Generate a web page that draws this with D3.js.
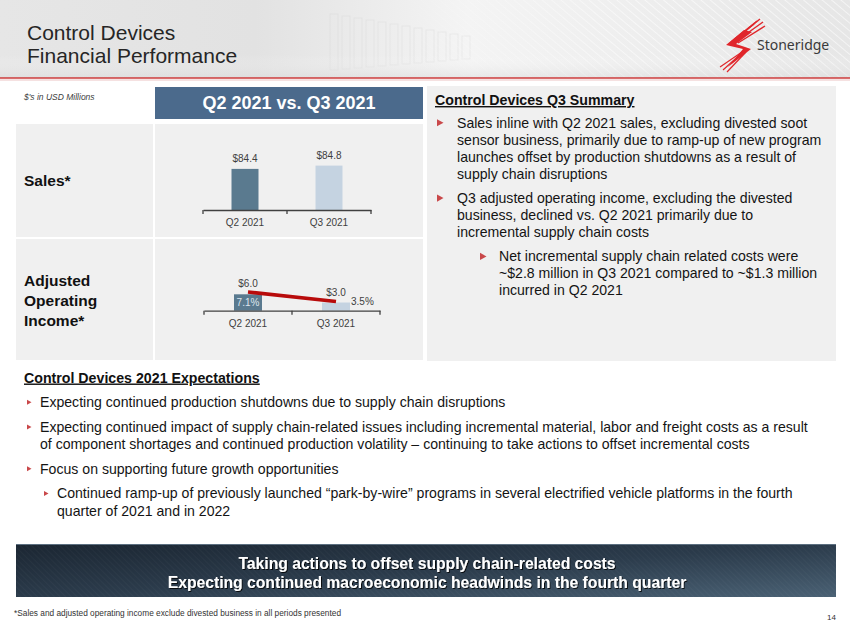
<!DOCTYPE html>
<html><head><meta charset="utf-8">
<script src="https://cdn.jsdelivr.net/npm/d3@7"></script>
<style>
html,body{margin:0;padding:0;background:#fff;}
svg text{font-family:"Liberation Sans",Arial,sans-serif;}
</style></head><body>
<svg id="c" width="850" height="638"></svg>
<script>
// ---------- data ----------
const quarters = ["Q2 2021", "Q3 2021"];
const salesValues = [84.4, 84.8];
const aoiValues = [6.0, 3.0];
const aoiMargins = [7.1, 3.5];
const titleLines = ["Control Devices", "Financial Performance"];
const compareTitle = "Q2 2021 vs. Q3 2021";
const unitNote = "$'s in USD Millions";
const rowLabelsSales = ["Sales*"];
const rowLabelsAoi = ["Adjusted", "Operating", "Income*"];
const summaryTitle = "Control Devices Q3 Summary";
const summaryItems = [
  {level: 0, lines: ["Sales inline with Q2 2021 sales, excluding divested soot",
                     "sensor business, primarily due to ramp-up of new program",
                     "launches offset by production shutdowns as a result of",
                     "supply chain disruptions"]},
  {level: 0, lines: ["Q3 adjusted operating income, excluding the divested",
                     "business, declined vs. Q2 2021 primarily due to",
                     "incremental supply chain costs"]},
  {level: 1, lines: ["Net incremental supply chain related costs were",
                     "~$2.8 million in Q3 2021 compared to ~$1.3 million",
                     "incurred in Q2 2021"]}
];
const expectTitle = "Control Devices 2021 Expectations";
const expectItems = [
  {level: 0, lines: ["Expecting continued production shutdowns due to supply chain disruptions"]},
  {level: 0, lines: ["Expecting continued impact of supply chain-related issues including incremental material, labor and freight costs as a result",
                     "of component shortages and continued production volatility \u2013 continuing to take actions to offset incremental costs"]},
  {level: 0, lines: ["Focus on supporting future growth opportunities"]},
  {level: 1, lines: ["Continued ramp-up of previously launched \u201cpark-by-wire\u201d programs in several electrified vehicle platforms in the fourth",
                     "quarter of 2021 and in 2022"]}
];
const bannerLines = ["Taking actions to offset supply chain-related costs",
                     "Expecting continued macroeconomic headwinds in the fourth quarter"];
const footnote = "*Sales and adjusted operating income exclude divested business in all periods presented";
const pageNumber = "14";

// ---------- drawing ----------
const svg = d3.select("#c");
const defs = svg.append("defs");

// header gradient
const hg = defs.append("linearGradient").attr("id","hdr").attr("x1","0").attr("x2","1").attr("y1","0").attr("y2","0");
[["0%","#e6e6e6"],["30%","#e2e2e2"],["55%","#f4f4f4"],["75%","#eeeeee"],["100%","#e6e6e6"]].forEach(s=>hg.append("stop").attr("offset",s[0]).attr("stop-color",s[1]));
const hv = defs.append("linearGradient").attr("id","hdrv").attr("x1","0").attr("x2","0").attr("y1","0").attr("y2","1");
[["0%","#ffffff",0.0],["70%","#ffffff",0.0],["100%","#d8d8d8",0.5]].forEach(s=>hv.append("stop").attr("offset",s[0]).attr("stop-color",s[1]).attr("stop-opacity",s[2]));
const pat = defs.append("pattern").attr("id","stripes").attr("width",6).attr("height",6)
  .attr("patternUnits","userSpaceOnUse").attr("patternTransform","rotate(-50)");
pat.append("line").attr("x1",0).attr("y1",0).attr("x2",0).attr("y2",6).attr("stroke","#ffffff").attr("stroke-width",2).attr("stroke-opacity",0.55);
const sm = defs.append("linearGradient").attr("id","stripeMask").attr("x1","0").attr("x2","1");
[["0%",0],["45%",0],["75%",1],["100%",1]].forEach(s=>sm.append("stop").attr("offset",s[0]).attr("stop-color","#fff").attr("stop-opacity",s[1]));
const mask = defs.append("mask").attr("id","stripeM");
mask.append("rect").attr("x",0).attr("y",0).attr("width",850).attr("height",78).attr("fill","url(#stripeMask)");

svg.append("rect").attr("x",0).attr("y",0).attr("width",850).attr("height",78).attr("fill","url(#hdr)");
// faint circuit texture in the header
const tex = svg.append("g").attr("opacity",0.18);
d3.range(12).forEach(i=>{
  tex.append("rect").attr("x",330+i*12).attr("y",14+i*2).attr("width",8).attr("height",56-i*3)
    .attr("fill","none").attr("stroke","#bdbdbd").attr("stroke-width",1);
});
svg.append("rect").attr("x",0).attr("y",0).attr("width",850).attr("height",78).attr("fill","url(#stripes)").attr("mask","url(#stripeM)");
svg.append("rect").attr("x",0).attr("y",0).attr("width",850).attr("height",78).attr("fill","url(#hdrv)");
svg.append("line").attr("x1",0).attr("x2",850).attr("y1",78).attr("y2",78).attr("stroke","#cc3b3b").attr("stroke-width",1.6);
svg.append("line").attr("x1",0).attr("x2",850).attr("y1",80).attr("y2",80).attr("stroke","#ecc4c4").attr("stroke-width",1);

// title
svg.append("g").selectAll("text").data(titleLines).join("text")
  .attr("x",27).attr("y",(d,i)=>40+i*23).attr("font-size",21).attr("fill","#262626").text(d=>d);

// logo
const logo = svg.append("g");
const red = "#e0262b";
[[760,19,733,41],[757,21,731,42],[763,22,735,42],[754,24,729,44],[765,26,738,43]].forEach(l=>
  logo.append("line").attr("x1",l[0]).attr("y1",l[1]).attr("x2",l[2]).attr("y2",l[3]).attr("stroke",red).attr("stroke-width",1.4));
logo.append("path").attr("d","M744,30 L726,45 L743,49 L728,67 L751,49 L736,44 L752,32 Z").attr("fill",red);
[[744,51,723,70],[746,52,727,72],[742,52,720,67]].forEach(l=>
  logo.append("line").attr("x1",l[0]).attr("y1",l[1]).attr("x2",l[2]).attr("y2",l[3]).attr("stroke",red).attr("stroke-width",1.2));
logo.append("text").attr("x",757).attr("y",50).attr("font-size",14).attr("fill","#3a3a3a")
  .style("font-family","'Noto Sans','Liberation Sans',sans-serif").text("Stoneridge");

// unit note
svg.append("text").attr("x",24).attr("y",100).attr("font-size",8.5).attr("font-style","italic").attr("fill","#404040").text(unitNote);

// compare header box
svg.append("rect").attr("x",155).attr("y",87).attr("width",268).attr("height",32).attr("fill","#4b6a8c");
svg.append("text").attr("x",289).attr("y",109).attr("text-anchor","middle").attr("font-size",18).attr("font-weight","bold")
  .attr("fill","#ffffff").text(compareTitle);

// panels
const panelFill = "#f0f0f0";
svg.append("rect").attr("x",16).attr("y",124).attr("width",137).attr("height",113).attr("fill",panelFill);
svg.append("rect").attr("x",155).attr("y",124).attr("width",268).attr("height",113).attr("fill",panelFill);
svg.append("rect").attr("x",16).attr("y",239).attr("width",137).attr("height",121).attr("fill",panelFill);
svg.append("rect").attr("x",155).attr("y",239).attr("width",268).attr("height",121).attr("fill",panelFill);
svg.append("rect").attr("x",427).attr("y",86).attr("width",409).attr("height",275).attr("fill",panelFill);

// row labels
svg.append("g").selectAll("text").data(rowLabelsSales).join("text")
  .attr("x",24).attr("y",186).attr("font-size",15.5).attr("font-weight","bold").attr("fill","#111").text(d=>d);
svg.append("g").selectAll("text").data(rowLabelsAoi).join("text")
  .attr("x",24).attr("y",(d,i)=>286+i*20).attr("font-size",15.5).attr("font-weight","bold").attr("fill","#111").text(d=>d);

const labelColor = "#404040";
const fmtMoney = v => "$" + d3.format(".1f")(v);
const fmtPct = v => d3.format(".1f")(v) + "%";

function catAxis(g, x, y0) {
  const ax = g.append("g").attr("transform",`translate(0,${y0})`)
    .call(d3.axisBottom(x).tickSize(0).tickPadding(9).tickSizeOuter(0));
  ax.select(".domain").attr("stroke","#404040").attr("stroke-width",1.3);
  ax.selectAll("text").attr("font-size",10).attr("fill",labelColor).style("font-family","'Liberation Sans',Arial,sans-serif");
  const bounds = quarters.map(q=>x(q)).concat([x(quarters[quarters.length-1])+x.bandwidth()]);
  ax.selectAll("line.bnd").data(bounds).join("line").attr("class","bnd")
    .attr("x1",d=>d).attr("x2",d=>d).attr("y1",0).attr("y2",4).attr("stroke","#404040").attr("stroke-width",1.3);
}

// ---- Sales chart ----
const gS = svg.append("g");
const xS = d3.scaleBand().domain(quarters).range([203, 371]);
const yS = d3.scaleLinear().domain([79.4, 84.8]).range([210, 165.6]);
const bwS = 27;
gS.selectAll("rect.bar").data(quarters).join("rect").attr("class","bar")
  .attr("x",q=>xS(q)+xS.bandwidth()/2-bwS/2).attr("width",bwS)
  .attr("y",(q,i)=>yS(salesValues[i])).attr("height",(q,i)=>yS(yS.domain()[0])-yS(salesValues[i]))
  .attr("fill",(q,i)=>i===0?"#5a7a8f":"#c5d3e1");
gS.selectAll("text.val").data(quarters).join("text").attr("class","val")
  .attr("x",q=>xS(q)+xS.bandwidth()/2).attr("y",(q,i)=>yS(salesValues[i])-7)
  .attr("text-anchor","middle").attr("font-size",10).attr("fill",labelColor).text((q,i)=>fmtMoney(salesValues[i]));
catAxis(gS, xS, 210);

// ---- Adjusted operating income chart ----
const gA = svg.append("g");
const xA = d3.scaleBand().domain(quarters).range([204, 380]);
const yA = d3.scaleLinear().domain([0, 6]).range([310.7, 294.3]);
const yM = d3.scaleLinear().domain([0, 7.1]).range([310.7, 292]);
const bwA = 28;
gA.selectAll("rect.bar").data(quarters).join("rect").attr("class","bar")
  .attr("x",q=>xA(q)+xA.bandwidth()/2-bwA/2).attr("width",bwA)
  .attr("y",(q,i)=>yA(aoiValues[i])).attr("height",(q,i)=>yA(0)-yA(aoiValues[i]))
  .attr("fill",(q,i)=>i===0?"#5a7a8f":"#c5d3e1");
const line = d3.line().x(d=>xA(d.q)+xA.bandwidth()/2).y(d=>yM(d.m));
gA.append("path").datum(quarters.map((q,i)=>({q, m: aoiMargins[i]})))
  .attr("d",line).attr("fill","none").attr("stroke","#b80b0b").attr("stroke-width",3.6);
gA.selectAll("text.val").data(quarters).join("text").attr("class","val")
  .attr("x",q=>xA(q)+xA.bandwidth()/2).attr("y",(q,i)=>yM(aoiMargins[i])-5)
  .attr("text-anchor","middle").attr("font-size",10).attr("fill",labelColor).text((q,i)=>fmtMoney(aoiValues[i]));
// margin labels
gA.append("text").attr("x",xA(quarters[0])+xA.bandwidth()/2).attr("y",yA(aoiValues[0]/2)+3.5)
  .attr("text-anchor","middle").attr("font-size",10).attr("fill","#dde6ee").text(fmtPct(aoiMargins[0]));
gA.append("text").attr("x",xA(quarters[1])+xA.bandwidth()/2+bwA/2+1).attr("y",yM(aoiMargins[1])+4)
  .attr("font-size",10).attr("fill",labelColor).text(fmtPct(aoiMargins[1]));
catAxis(gA, xA, 310.7);

// ---- Summary ----
function tri(g, x, y, s, color) {
  g.append("path").attr("d",`M${x},${y-s*0.55} L${x+s},${y} L${x},${y+s*0.55} Z`).attr("fill",color);
}
const sumG = svg.append("g");
sumG.append("text").attr("x",435).attr("y",105).attr("font-size",14.2).attr("font-weight","bold").attr("fill","#111")
  .attr("text-decoration","underline").text(summaryTitle);
let sy = 127.5;
summaryItems.forEach((it,k)=>{
  const tx = it.level===0 ? 457 : 499;
  const mx = it.level===0 ? 437 : 480;
  tri(sumG, mx, sy-4.8, 6.5, "#c9484a");
  it.lines.forEach((ln,j)=>{
    sumG.append("text").attr("x",tx).attr("y",sy+j*17.1).attr("font-size",14.1).attr("fill","#141414").text(ln);
  });
  sy += it.lines.length*17.1 + 7;
});

// ---- Expectations ----
const exG = svg.append("g");
exG.append("text").attr("x",24).attr("y",382.5).attr("font-size",14.2).attr("font-weight","bold").attr("fill","#111")
  .attr("text-decoration","underline").text(expectTitle);
let ey = 407;
expectItems.forEach(it=>{
  const tx = it.level===0 ? 40 : 57;
  const mx = it.level===0 ? 27 : 44;
  tri(exG, mx, ey-4.8, 4.5, "#c9484a");
  it.lines.forEach((ln,j)=>{
    exG.append("text").attr("x",tx).attr("y",ey+j*17.2).attr("font-size",14.1).attr("fill","#141414").text(ln);
  });
  ey += it.lines.length*17.2 + 7.5;
});

// ---- Banner ----
const bg = defs.append("linearGradient").attr("id","ban").attr("x1","0").attr("x2","1").attr("y1","0").attr("y2","1");
[["0%","#1b2632"],["50%","#2b3b4b"],["100%","#4a6174"]].forEach(s=>bg.append("stop").attr("offset",s[0]).attr("stop-color",s[1]));
const bpat = defs.append("pattern").attr("id","bstripes").attr("width",4).attr("height",4)
  .attr("patternUnits","userSpaceOnUse").attr("patternTransform","rotate(-45)");
bpat.append("line").attr("x1",0).attr("y1",0).attr("x2",0).attr("y2",4).attr("stroke","#ffffff").attr("stroke-width",1).attr("stroke-opacity",0.05);
const flt = defs.append("filter").attr("id","sh").attr("x","-5%").attr("y","-20%").attr("width","110%").attr("height","140%");
flt.append("feDropShadow").attr("dx",1).attr("dy",1).attr("stdDeviation",0.6).attr("flood-color","#000").attr("flood-opacity",0.8);
svg.append("rect").attr("x",16).attr("y",544).attr("width",820).attr("height",53).attr("fill","url(#ban)");
svg.append("rect").attr("x",16).attr("y",544).attr("width",820).attr("height",53).attr("fill","url(#bstripes)");
svg.append("line").attr("x1",16).attr("x2",836).attr("y1",544.5).attr("y2",544.5).attr("stroke","#5c6f80").attr("stroke-width",1);
svg.append("g").selectAll("text").data(bannerLines).join("text")
  .attr("x",427).attr("y",(d,i)=>569+i*18.5).attr("text-anchor","middle").attr("font-size",15.7).attr("font-weight","bold")
  .attr("fill","#ffffff").attr("filter","url(#sh)").text(d=>d);

// ---- footer ----
svg.append("text").attr("x",14).attr("y",616).attr("font-size",8.3).attr("fill","#333").text(footnote);
svg.append("text").attr("x",836).attr("y",620).attr("text-anchor","end").attr("font-size",8).attr("fill","#333").text(pageNumber);
</script>
</body></html>
